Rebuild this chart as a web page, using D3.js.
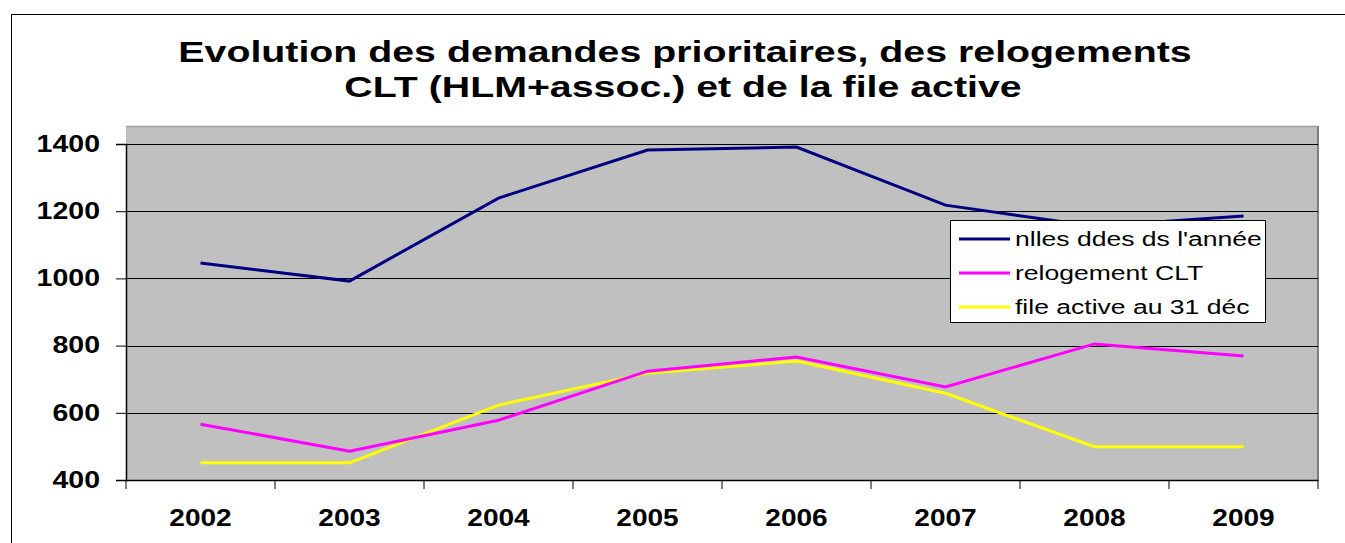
<!DOCTYPE html>
<html><head><meta charset="utf-8">
<script src="https://cdn.jsdelivr.net/npm/d3@7"></script>
<style>body{margin:0;background:#fff;}svg{display:block;font-family:Arial,"Liberation Sans",sans-serif;}</style>
</head><body>
<svg id="c" width="1345" height="543"></svg>
<script>
const categories = ["2002","2003","2004","2005","2006","2007","2008","2009"];
const seriesNames = ["nlles ddes ds l'année","relogement CLT","file active au 31 déc"];
const nouvelles = [1046, 992, 1239, 1382, 1391, 1218, 1155, 1186];
const relogement = [566, 486, 578, 724, 766, 677, 805, 769];
const fileActive = [451, 451, 623, 718, 754, 658, 499, 499];
const yTicks = [400, 600, 800, 1000, 1200, 1400];
const colors = ["#000080", "#FF00FF", "#FFFF00"];
const titleLines = ["Evolution des demandes prioritaires, des relogements", "CLT (HLM+assoc.) et de la file active"];

const svg = d3.select("#c");
const L = 126, R = 1318, T = 126, B = 480;

// stretch text horizontally (reference glyphs are wider than Arial)
function stretch(sel, k) {
  sel.each(function () {
    const w = this.getComputedTextLength();
    d3.select(this).attr("textLength", w * k).attr("lengthAdjust", "spacingAndGlyphs");
  });
}

// outer frame
svg.append("rect").attr("x", 11.5).attr("y", 14.5).attr("width", 1400).attr("height", 600)
  .attr("fill", "#fff").attr("stroke", "#000").attr("stroke-width", 1);

// title
const t1 = svg.append("text").attr("x", 685).attr("y", 62).attr("text-anchor", "middle")
  .attr("font-size", 30).attr("font-weight", "bold").text(titleLines[0]);
const t2 = svg.append("text").attr("x", 683).attr("y", 97).attr("text-anchor", "middle")
  .attr("font-size", 30).attr("font-weight", "bold").text(titleLines[1]);
stretch(t1, 1.31); stretch(t2, 1.31);

const x = d3.scaleBand().domain(categories).range([L, R]).padding(0);
const y = d3.scaleLinear().domain([400, 1400]).range([B, 144]);

// plot area
svg.append("rect").attr("x", L).attr("y", T).attr("width", R - L).attr("height", B - T)
  .attr("fill", "#C0C0C0");
svg.append("line").attr("x1", L).attr("x2", R).attr("y1", T + 0.5).attr("y2", T + 0.5).attr("stroke", "#a0a0a0").attr("stroke-width", 1.5);
svg.append("line").attr("x1", R).attr("x2", R).attr("y1", T).attr("y2", B).attr("stroke", "#808080").attr("stroke-width", 2);

// gridlines
svg.append("g").selectAll("line").data(yTicks.slice(1)).join("line")
  .attr("x1", L).attr("x2", R).attr("y1", d => Math.round(y(d)) + 0.5).attr("y2", d => Math.round(y(d)) + 0.5)
  .attr("stroke", "#000").attr("stroke-width", 1);

// y axis
const yAxis = svg.append("g").attr("transform", `translate(${L},0)`)
  .call(d3.axisLeft(y).tickValues(yTicks).tickSize(10).tickPadding(16).tickFormat(d3.format("d")));
yAxis.select(".domain").attr("stroke", "#000").attr("stroke-width", 1.5);
yAxis.selectAll(".tick line").attr("stroke", "#000");
yAxis.selectAll("text").attr("font-size", 23).attr("font-weight", "bold").attr("fill", "#000")
  .attr("font-family", "Arial, 'Liberation Sans', sans-serif");
stretch(yAxis.selectAll("text"), 1.24);

// x axis
const xAxis = svg.append("g").attr("transform", `translate(0,${B})`)
  .call(d3.axisBottom(x).tickSize(0).tickPadding(30));
xAxis.select(".domain").attr("stroke", "#000").attr("stroke-width", 1.5);
xAxis.selectAll("text").attr("font-size", 23).attr("font-weight", "bold").attr("fill", "#000")
  .attr("font-family", "Arial, 'Liberation Sans', sans-serif");
stretch(xAxis.selectAll("text"), 1.22);
const edges = categories.map(c => x(c)).concat([R]);
svg.append("g").selectAll("line").data(edges).join("line")
  .attr("x1", d => d).attr("x2", d => d).attr("y1", B).attr("y2", B + 9)
  .attr("stroke", "#000").attr("stroke-width", 1);

// lines
const data = [nouvelles, relogement, fileActive];
const line = d3.line().x((d, i) => x(categories[i]) + x.bandwidth() / 2).y(d => y(d));
[2, 1, 0].forEach(k => {
  svg.append("path").datum(data[k]).attr("d", line).attr("fill", "none")
    .attr("stroke", colors[k]).attr("stroke-width", 3).attr("stroke-linejoin", "miter");
});

// legend
const lg = svg.append("g");
lg.append("rect").attr("x", 950.5).attr("y", 220.5).attr("width", 315).attr("height", 102)
  .attr("fill", "#fff").attr("stroke", "#000").attr("stroke-width", 1);
seriesNames.forEach((n, i) => {
  const yy = 239 + i * 34;
  lg.append("line").attr("x1", 959).attr("x2", 1010).attr("y1", yy).attr("y2", yy)
    .attr("stroke", colors[i]).attr("stroke-width", 3);
  const t = lg.append("text").attr("x", 1015).attr("y", yy + 7).attr("font-size", 19.5).attr("fill", "#000").text(n);
  stretch(t, 1.36);
});
</script>
</body></html>
